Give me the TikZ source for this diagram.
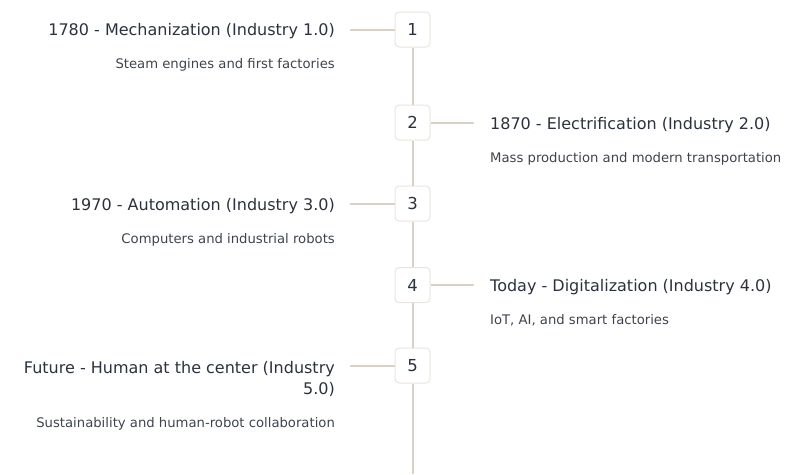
\documentclass[tikz,border=0pt]{standalone}
\usepackage{fontspec}
\setmainfont{DejaVu Sans}
\definecolor{ink}{HTML}{2B323D}
\definecolor{subink}{HTML}{3E444D}
\definecolor{spine}{HTML}{D8D1C4}
\definecolor{boxline}{HTML}{E9E5DD}
\begin{document}
\begin{tikzpicture}[x=1pt,y=-1pt]
    \useasboundingbox (0,0) rectangle (787,474);
    \begin{scope}
        \tikzset{
            era box/.style={draw=boxline, line width=1pt, fill=white, rounded corners=4pt,
                minimum width=35pt, minimum height=35pt, inner sep=0pt, text=ink,
                font=\fontsize{16.5}{21}\selectfont},
            era title/.style={inner sep=0pt, text=ink, font=\fontsize{16}{21}\selectfont},
            era note/.style={inner sep=0pt, text=subink, font=\fontsize{13.2}{16}\selectfont},
            spine line/.style={draw=spine, line width=2pt}
        }
        % Draw the numbered boxes
        \node [era box] (b1) at (412.5, 29.5) {1};
        \node [era box] (b2) at (412.5, 122.5) {2};
        \node [era box] (b3) at (412.5, 203.5) {3};
        \node [era box] (b4) at (412.5, 285) {4};
        \node [era box] (b5) at (412.5, 365.5) {5};
        \coordinate (end) at (412.5, 474);

        % Ends of the side connectors
        \coordinate (c1) at (350, 29.5);
        \coordinate (c2) at (474, 122.5);
        \coordinate (c3) at (350, 203.5);
        \coordinate (c4) at (474, 285);
        \coordinate (c5) at (350, 365.5);

        % Draw the time line
        \draw [spine line] (b1) -- (b2);
        \draw [spine line] (b2) -- (b3);
        \draw [spine line] (b3) -- (b4);
        \draw [spine line] (b4) -- (b5);
        \draw [spine line] (b5) -- (end);
        \draw [spine line] (b1) -- (c1);
        \draw [spine line] (b2) -- (c2);
        \draw [spine line] (b3) -- (c3);
        \draw [spine line] (b4) -- (c4);
        \draw [spine line] (b5) -- (c5);

        % Label each era
        \node [era title, anchor=base east] (t1) at (335, 35) {1780 - Mechanization (Industry 1.0)};
        \node [era note, anchor=base east] (n1) at (335, 68.3) {Steam engines and first factories};
        \node [era title, anchor=base west] (t2) at (490, 129) {1870 - Electrification (Industry 2.0)};
        \node [era note, anchor=base west] (n2) at (490, 162) {Mass production and modern transportation};
        \node [era title, anchor=base east] (t3) at (335, 210) {1970 - Automation (Industry 3.0)};
        \node [era note, anchor=base east] (n3) at (335, 243) {Computers and industrial robots};
        \node [era title, anchor=base west] (t4) at (490, 291) {Today - Digitalization (Industry 4.0)};
        \node [era note, anchor=base west] (n4) at (490, 324) {IoT, AI, and smart factories};
        \node [era title, anchor=base east, align=right] (t5) at (335, 394) {Future - Human at the center (Industry\\5.0)};
        \node [era note, anchor=base east] (n5) at (335, 427) {Sustainability and human-robot collaboration};
    \end{scope}
\end{tikzpicture}
\end{document}
